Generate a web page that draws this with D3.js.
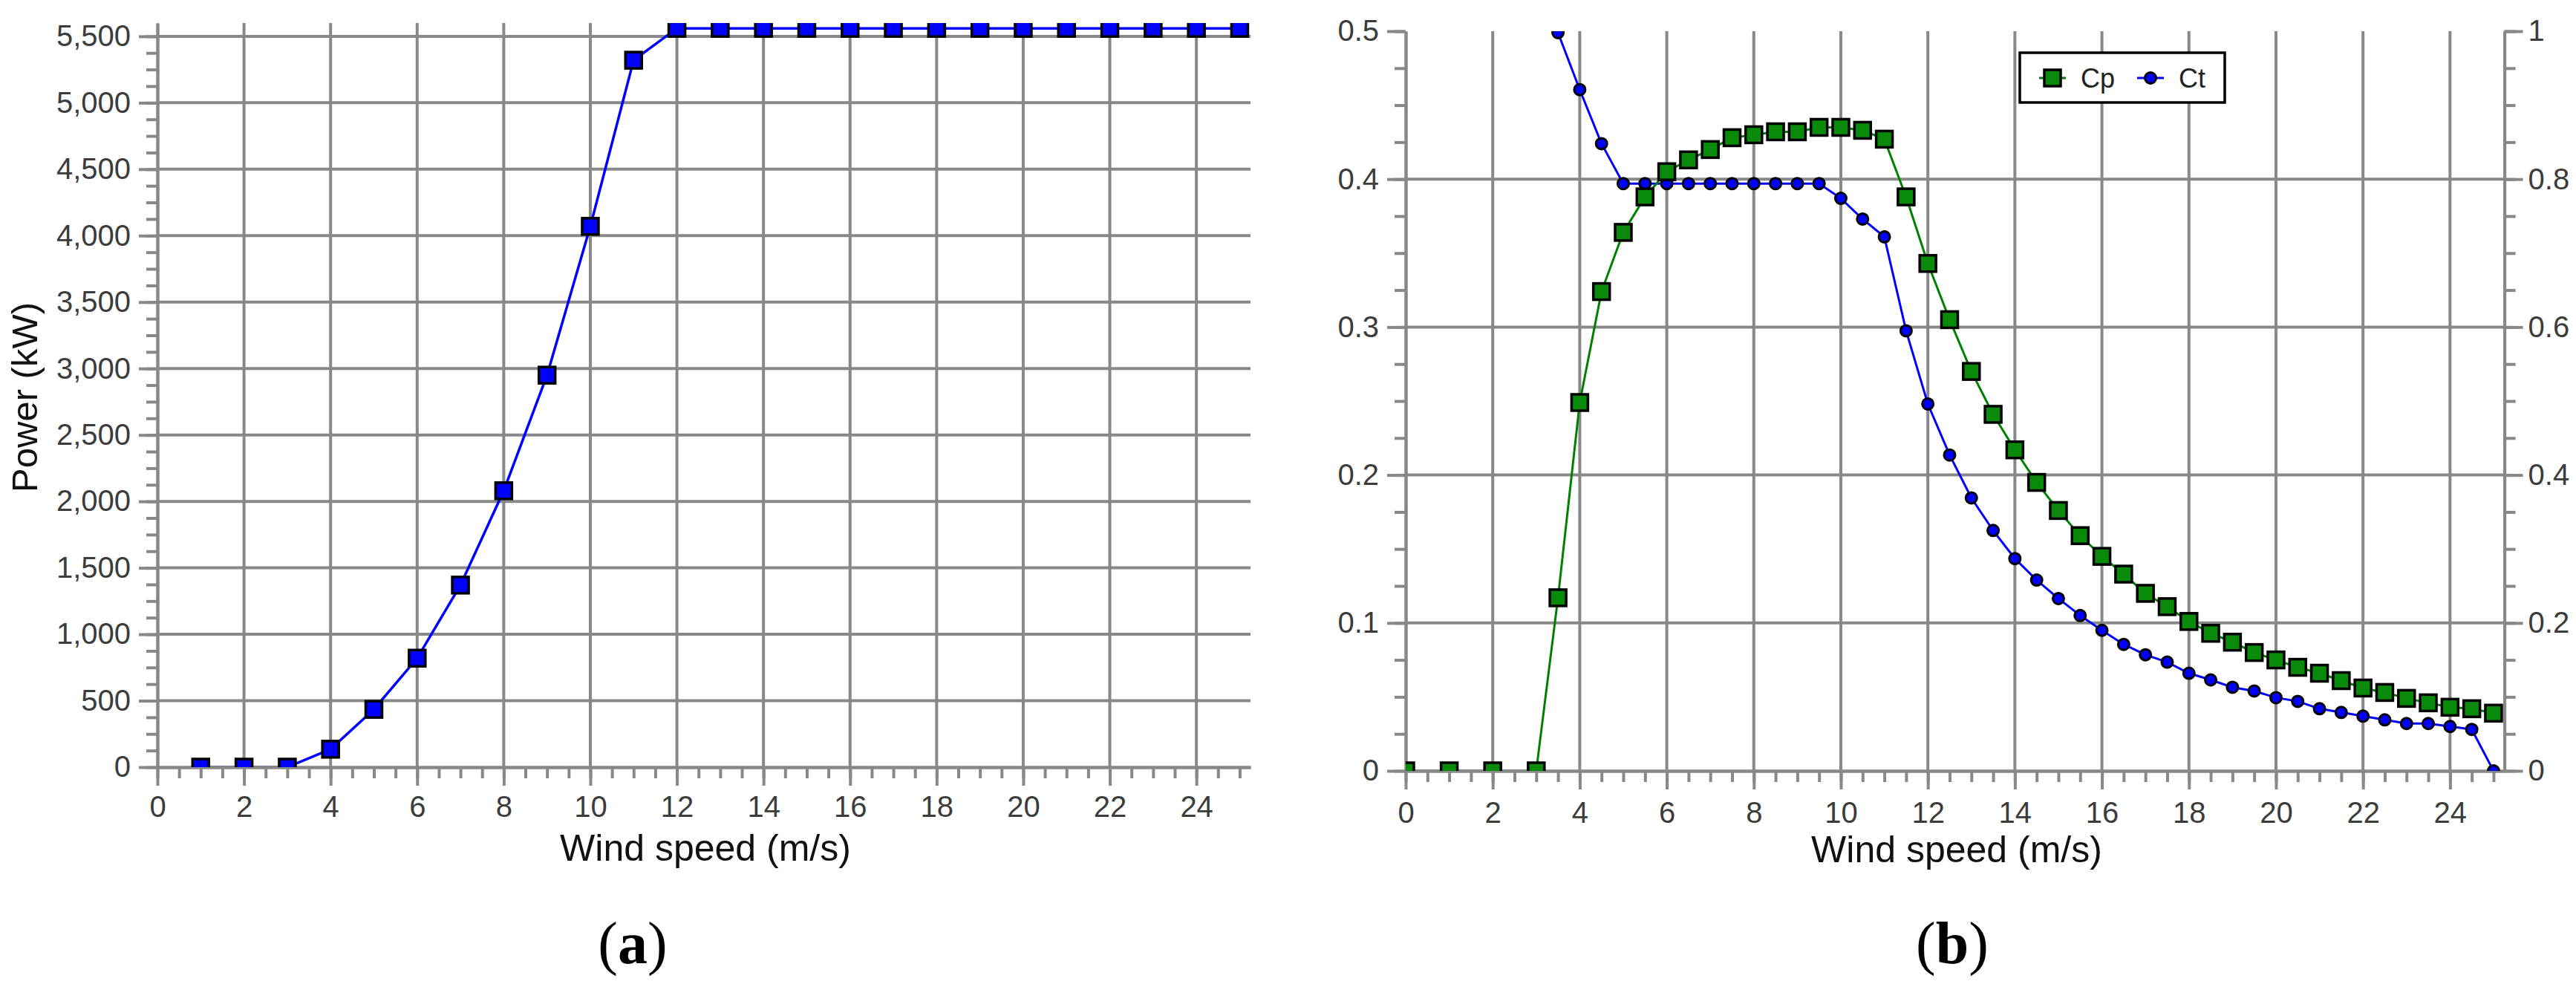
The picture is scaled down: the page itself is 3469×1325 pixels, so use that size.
<!DOCTYPE html>
<html>
<head>
<meta charset="utf-8">
<script src="https://cdn.jsdelivr.net/npm/d3@7"></script>
<style>
  body { margin: 0; background: #fff; }
  .tick text { font-family: "Liberation Sans Narrow", "Arial Narrow", "Liberation Sans", Arial, sans-serif; font-size: 40px; fill: #3c3c3c; }
  .axis path, .axis line { stroke: #888; stroke-width: 4; }
  .grid line { stroke: #888; stroke-width: 4; }
</style>
</head>
<body>
<script>
// panel (a): power curve
var powerWind = [1, 2, 3, 4, 5, 6, 7, 8, 9, 10, 11, 12, 13, 14, 15, 16, 17, 18, 19, 20, 21, 22, 23, 24, 25];
var powerKW = [0, 0, 0, 135, 435, 820, 1370, 2080, 2950, 4070, 5320, 5560, 5560, 5560, 5560, 5560, 5560, 5560, 5560, 5560, 5560, 5560, 5560, 5560, 5560];

// panel (b): power and thrust coefficients
var cpWind = [0, 1, 2, 3, 3.5, 4, 4.5, 5, 5.5, 6, 6.5, 7, 7.5, 8, 8.5, 9, 9.5, 10, 10.5, 11, 11.5, 12, 12.5, 13, 13.5, 14, 14.5, 15, 15.5, 16, 16.5, 17, 17.5, 18, 18.5, 19, 19.5, 20, 20.5, 21, 21.5, 22, 22.5, 23, 23.5, 24, 24.5, 25];
var cpValues = [0, 0, 0, 0, 0.117, 0.249, 0.324, 0.364, 0.388, 0.405, 0.413, 0.420, 0.428, 0.430, 0.432, 0.432, 0.435, 0.435, 0.433, 0.427, 0.388, 0.343, 0.305, 0.270, 0.241, 0.217, 0.195, 0.176, 0.159, 0.145, 0.133, 0.120, 0.111, 0.101, 0.093, 0.087, 0.080, 0.075, 0.070, 0.066, 0.061, 0.056, 0.053, 0.049, 0.046, 0.043, 0.042, 0.039];
var ctWind = [3.5, 4, 4.5, 5, 5.5, 6, 6.5, 7, 7.5, 8, 8.5, 9, 9.5, 10, 10.5, 11, 11.5, 12, 12.5, 13, 13.5, 14, 14.5, 15, 15.5, 16, 16.5, 17, 17.5, 18, 18.5, 19, 19.5, 20, 20.5, 21, 21.5, 22, 22.5, 23, 23.5, 24, 24.5, 25];
var ctValues = [0.998, 0.921, 0.848, 0.794, 0.794, 0.794, 0.794, 0.794, 0.794, 0.794, 0.794, 0.794, 0.794, 0.774, 0.746, 0.722, 0.595, 0.496, 0.427, 0.369, 0.325, 0.287, 0.258, 0.233, 0.210, 0.190, 0.171, 0.157, 0.147, 0.132, 0.123, 0.113, 0.108, 0.099, 0.094, 0.084, 0.079, 0.074, 0.069, 0.064, 0.064, 0.060, 0.056, 0];

var xMajor = [0, 2, 4, 6, 8, 10, 12, 14, 16, 18, 20, 22, 24];
var powerTicks = [0, 500, 1000, 1500, 2000, 2500, 3000, 3500, 4000, 4500, 5000, 5500];
var cpTicks = [0, 0.1, 0.2, 0.3, 0.4, 0.5];
var ctTicks = [0, 0.2, 0.4, 0.6, 0.8, 1];
var legendLabels = ["Cp", "Ct"];

var width = 3469, height = 1325;

var svg = d3.select("body")
            .append("svg")
            .attr("width", width)
            .attr("height", height)
            .style("background", "#fff");

var defs = svg.append("defs");

var numFmt = function(d) { return d === 0 ? "0" : (d === 1 ? "1" : d3.format(".1f")(d)); };
var xMinor = d3.range(0, 25.01, 0.5);

// ---------- panel (a) ----------
var xA = d3.scaleLinear().domain([0, 25.25]).range([212, 1684]);
var yA = d3.scaleLinear().domain([0, 5600]).range([1033, 31]);

defs.append("clipPath").attr("id", "clipA")
    .append("rect")
    .attr("x", xA(0)).attr("y", yA(5600))
    .attr("width", xA(25.25) - xA(0)).attr("height", yA(0) - yA(5600));

var gA = svg.append("g");

// gridlines
gA.append("g").attr("class", "grid")
  .selectAll("line").data(xMajor.slice(1)).enter()
  .append("line")
  .attr("x1", function(d) { return xA(d); }).attr("x2", function(d) { return xA(d); })
  .attr("y1", yA(5600)).attr("y2", yA(0));
gA.append("g").attr("class", "grid")
  .selectAll("line").data(powerTicks.slice(1)).enter()
  .append("line")
  .attr("x1", xA(0)).attr("x2", xA(25.25))
  .attr("y1", function(d) { return yA(d); }).attr("y2", function(d) { return yA(d); });

// data line
gA.append("path")
  .datum(powerWind.map(function(w, i) { return [w, powerKW[i]]; }))
  .attr("clip-path", "url(#clipA)")
  .attr("fill", "none")
  .attr("stroke", "#0000ff")
  .attr("stroke-width", 3.5)
  .attr("d", d3.line().x(function(d) { return xA(d[0]); }).y(function(d) { return yA(d[1]); }));

// axes
gA.append("g").attr("class", "axis")
  .attr("transform", "translate(0," + yA(0) + ")")
  .call(d3.axisBottom(xA).tickValues(xMinor).tickSize(15).tickSizeOuter(0).tickFormat(""));
gA.append("g").attr("class", "axis")
  .attr("transform", "translate(0," + yA(0) + ")")
  .call(d3.axisBottom(xA).tickValues(xMajor).tickSize(25).tickSizeOuter(0).tickPadding(14).tickFormat(d3.format("d")));
gA.append("g").attr("class", "axis")
  .attr("transform", "translate(" + xA(0) + ",0)")
  .call(d3.axisLeft(yA).tickValues(d3.range(0, 5501, 125)).tickSize(15).tickSizeOuter(0).tickFormat(""));
gA.append("g").attr("class", "axis")
  .attr("transform", "translate(" + xA(0) + ",0)")
  .call(d3.axisLeft(yA).tickValues(powerTicks).tickSize(25).tickSizeOuter(0).tickPadding(11).tickFormat(d3.format(",")));

// markers
gA.append("g").attr("clip-path", "url(#clipA)")
  .selectAll("rect").data(powerWind).enter()
  .append("rect")
  .attr("x", function(d) { return xA(d) - 11; })
  .attr("y", function(d, i) { return yA(powerKW[i]) - 11; })
  .attr("width", 22).attr("height", 22)
  .attr("fill", "#0000ff")
  .attr("stroke", "#000")
  .attr("stroke-width", 3.5);

svg.append("text")
   .attr("transform", "translate(50,535) rotate(-90)")
   .style("text-anchor", "middle")
   .style("font-family", "'Liberation Sans', Arial, sans-serif")
   .style("font-size", "49px")
   .style("fill", "#111")
   .text("Power (kW)");

svg.append("text")
   .attr("x", 950).attr("y", 1159)
   .style("text-anchor", "middle")
   .style("font-family", "'Liberation Sans', Arial, sans-serif")
   .style("font-size", "50px")
   .style("fill", "#111")
   .text("Wind speed (m/s)");

// ---------- panel (b) ----------
var xB = d3.scaleLinear().domain([0, 25.25]).range([1893, 3372.6]);
var yB = d3.scaleLinear().domain([0, 0.5]).range([1038, 42]);
var yR = d3.scaleLinear().domain([0, 1]).range([1038, 42]);

defs.append("clipPath").attr("id", "clipB")
    .append("rect")
    .attr("x", xB(0)).attr("y", yB(0.5))
    .attr("width", xB(25.25) - xB(0)).attr("height", yB(0) - yB(0.5));

var gB = svg.append("g");

gB.append("g").attr("class", "grid")
  .selectAll("line").data(xMajor.slice(1)).enter()
  .append("line")
  .attr("x1", function(d) { return xB(d); }).attr("x2", function(d) { return xB(d); })
  .attr("y1", yB(0.5)).attr("y2", yB(0));
gB.append("g").attr("class", "grid")
  .selectAll("line").data(cpTicks.slice(1, 5)).enter()
  .append("line")
  .attr("x1", xB(0)).attr("x2", xB(25.25))
  .attr("y1", function(d) { return yB(d); }).attr("y2", function(d) { return yB(d); });

var ctPts = ctWind.map(function(w, i) { return [w, ctValues[i]]; });
var cpPts = cpWind.map(function(w, i) { return [w, cpValues[i]]; });

gB.append("path")
  .datum(ctPts)
  .attr("clip-path", "url(#clipB)")
  .attr("fill", "none")
  .attr("stroke", "#0000ff")
  .attr("stroke-width", 3)
  .attr("d", d3.line().x(function(d) { return xB(d[0]); }).y(function(d) { return yR(d[1]); }));
gB.append("path")
  .datum(cpPts)
  .attr("clip-path", "url(#clipB)")
  .attr("fill", "none")
  .attr("stroke", "#008000")
  .attr("stroke-width", 3)
  .attr("d", d3.line().x(function(d) { return xB(d[0]); }).y(function(d) { return yB(d[1]); }));

gB.append("g").attr("class", "axis")
  .attr("transform", "translate(0," + yB(0) + ")")
  .call(d3.axisBottom(xB).tickValues(xMinor).tickSize(15).tickSizeOuter(0).tickFormat(""));
gB.append("g").attr("class", "axis")
  .attr("transform", "translate(0," + yB(0) + ")")
  .call(d3.axisBottom(xB).tickValues(xMajor).tickSize(25).tickSizeOuter(0).tickPadding(17).tickFormat(d3.format("d")));
gB.append("g").attr("class", "axis")
  .attr("transform", "translate(" + xB(0) + ",0)")
  .call(d3.axisLeft(yB).tickValues(d3.range(0, 0.51, 0.025)).tickSize(15).tickSizeOuter(0).tickFormat(""));
gB.append("g").attr("class", "axis")
  .attr("transform", "translate(" + xB(0) + ",0)")
  .call(d3.axisLeft(yB).tickValues(cpTicks).tickSize(25).tickSizeOuter(0).tickPadding(11).tickFormat(numFmt));
gB.append("g").attr("class", "axis")
  .attr("transform", "translate(" + xB(25.25) + ",0)")
  .call(d3.axisRight(yR).tickValues(d3.range(0, 1.01, 0.05)).tickSize(15).tickSizeOuter(0).tickFormat(""));
gB.append("g").attr("class", "axis")
  .attr("transform", "translate(" + xB(25.25) + ",0)")
  .call(d3.axisRight(yR).tickValues(ctTicks).tickSize(25).tickSizeOuter(0).tickPadding(7).tickFormat(numFmt));

// ct markers then cp markers on top
gB.append("g").attr("clip-path", "url(#clipB)")
  .selectAll("circle").data(ctPts).enter()
  .append("circle")
  .attr("cx", function(d) { return xB(d[0]); })
  .attr("cy", function(d) { return yR(d[1]); })
  .attr("r", 7.5)
  .attr("fill", "#0000ff")
  .attr("stroke", "#000")
  .attr("stroke-width", 3);
gB.append("g").attr("clip-path", "url(#clipB)")
  .selectAll("rect").data(cpPts).enter()
  .append("rect")
  .attr("x", function(d) { return xB(d[0]) - 11; })
  .attr("y", function(d) { return yB(d[1]) - 11; })
  .attr("width", 22).attr("height", 22)
  .attr("fill", "#0a8a0a")
  .attr("stroke", "#000")
  .attr("stroke-width", 3.5);

// legend
var legend = svg.append("g").attr("transform", "translate(2720,71)");
legend.append("rect")
      .attr("width", 276).attr("height", 67)
      .attr("fill", "#fff")
      .attr("stroke", "#000")
      .attr("stroke-width", 3.5);
var legendItems = legend.selectAll(".legend-item")
                        .data(legendLabels)
                        .enter()
                        .append("g")
                        .attr("class", "legend-item")
                        .attr("transform", function(d, i) { return "translate(" + (44 + i * 132) + ",34)"; });
legendItems.append("line")
           .attr("x1", -18).attr("x2", 18)
           .attr("stroke", function(d) { return d == "Cp" ? "#008000" : "#0000ff"; })
           .attr("stroke-width", 3);
legendItems.each(function(d) {
  var g = d3.select(this);
  if (d == "Cp") {
    g.append("rect").attr("x", -11).attr("y", -11).attr("width", 22).attr("height", 22)
     .attr("fill", "#0a8a0a").attr("stroke", "#000").attr("stroke-width", 3.5);
  } else {
    g.append("circle").attr("r", 7.5)
     .attr("fill", "#0000ff").attr("stroke", "#000").attr("stroke-width", 3);
  }
});
legendItems.append("text")
           .attr("x", 38).attr("y", 13)
           .style("font-family", "'Liberation Sans', Arial, sans-serif")
           .style("font-size", "36px")
           .style("fill", "#222")
           .text(function(d) { return d; });

svg.append("text")
   .attr("x", 2635).attr("y", 1161)
   .style("text-anchor", "middle")
   .style("font-family", "'Liberation Sans', Arial, sans-serif")
   .style("font-size", "50px")
   .style("fill", "#111")
   .text("Wind speed (m/s)");

// sub-figure labels
[["a", 852], ["b", 2629]].forEach(function(p) {
  var t = svg.append("text")
             .attr("x", p[1]).attr("y", 1297)
             .style("text-anchor", "middle")
             .style("font-family", "'Liberation Serif', 'Times New Roman', serif")
             .style("font-size", "80px")
             .style("fill", "#000");
  t.append("tspan").text("(");
  t.append("tspan").style("font-weight", "bold").text(p[0]);
  t.append("tspan").text(")");
});
</script>
</body>
</html>
